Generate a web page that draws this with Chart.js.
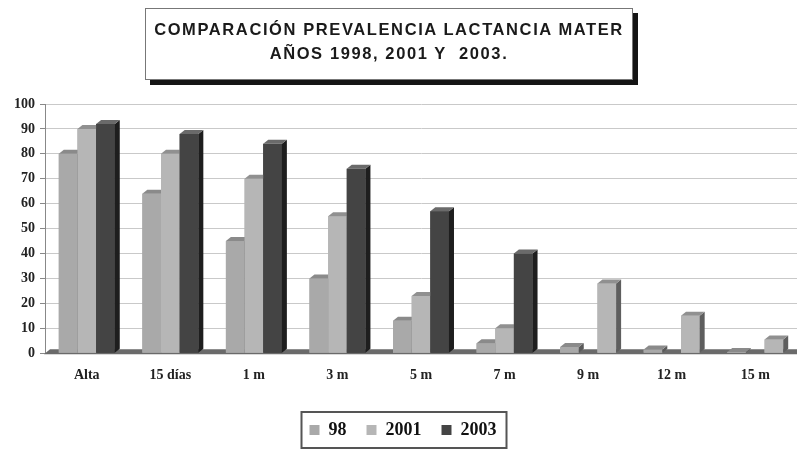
<!DOCTYPE html>
<html>
<head>
<meta charset="utf-8">
<script src="https://cdn.jsdelivr.net/npm/chart.js@4.4.1/dist/chart.umd.min.js"></script>
<style>
  html, body { margin: 0; padding: 0; background: #fff; }
  #wrap { position: relative; width: 799px; height: 453px; overflow: hidden; }
  #title {
    position: absolute; left: 145px; top: 8px; width: 486px; height: 62px;
    padding-top: 8px;
    border: 1px solid #777; background: #fff;
    box-shadow: 5px 5px 0 #151515;
    font: bold 16.5px "Liberation Sans", Arial, sans-serif;
    letter-spacing: 1.6px; color: #1a1a1a;
    text-align: center; line-height: 24px;
    white-space: pre; overflow: hidden;
  }
</style>
</head>
<body>
<div id="wrap">
  <canvas id="c" width="799" height="453"></canvas>
  <div id="title">COMPARACIÓN PREVALENCIA LACTANCIA MATER
AÑOS 1998, 2001 Y  2003.</div>
</div>
<script>
// Prevalence of breastfeeding (%) by age of the child
const categories = ['Alta', '15 días', '1 m', '3 m', '5 m', '7 m', '9 m', '12 m', '15 m'];
const seriesNames = ['98', '2001', '2003'];
const values98   = [80, 64, 45, 30, 13, 4, 2.5, 1.5, 0.5];
const values2001 = [90, 80, 70, 55, 23, 10, 0, 0, 0];
const values2003 = [92, 88, 84, 74, 57, 40, 28, 15, 5.5];
const yTicks = [0, 10, 20, 30, 40, 50, 60, 70, 80, 90, 100];

// shades: front face, side face, top face
const SHADE_LIGHT_A = { front: '#a9a9a9', side: '#5a5a5a', top: '#8a8a8a' };
const SHADE_LIGHT_B = { front: '#b6b6b6', side: '#5e5e5e', top: '#909090' };
const SHADE_DARK    = { front: '#444444', side: '#1e1e1e', top: '#6a6a6a' };
// the later ages of the 2003 series are printed in the light shade
const LIGHT_FROM = categories.indexOf('9 m');

const DEPTH_X = 5, DEPTH_Y = 4;

function shadeFor(datasetIndex, dataIndex) {
  if (datasetIndex === 0) return SHADE_LIGHT_A;
  if (datasetIndex === 1) return SHADE_LIGHT_B;
  return (dataIndex !== undefined && dataIndex >= LIGHT_FROM) ? SHADE_LIGHT_B : SHADE_DARK;
}

const seriesValues = [values98, values2001, values2003];

// 3D floor strip under the bars
const floorPlugin = {
  id: 'floor',
  beforeDatasetsDraw(chart) {
    const { ctx, chartArea } = chart;
    const y0 = chart.scales.y.getPixelForValue(0);
    ctx.save();
    ctx.fillStyle = '#6a6a6a';
    ctx.beginPath();
    ctx.moveTo(chartArea.left - 1, y0 + 1);
    ctx.lineTo(chartArea.left + DEPTH_X, y0 - DEPTH_Y);
    ctx.lineTo(chartArea.right, y0 - DEPTH_Y);
    ctx.lineTo(chartArea.right, y0 + 1);
    ctx.closePath();
    ctx.fill();
    ctx.restore();
  }
};

// front, side and top faces of every bar, painted left to right
const depthPlugin = {
  id: 'depth',
  afterDatasetsDraw(chart) {
    const { ctx } = chart;
    const metas = chart.data.datasets.map((d, k) => chart.getDatasetMeta(k));
    ctx.save();
    categories.forEach((c, i) => {
      metas.forEach((meta, k) => {
        const el = meta.data[i];
        if (!el) return;
        const p = el.getProps(['x', 'y', 'base', 'width'], true);
        if (Math.abs(p.base - p.y) < 0.01) return;
        const s = shadeFor(k, i);
        const l = p.x - p.width / 2, r = p.x + p.width / 2;
        const t = Math.min(p.y, p.base), b = Math.max(p.y, p.base);
        ctx.fillStyle = s.front;
        ctx.fillRect(l, t, r - l, b - t);
        ctx.fillStyle = s.side;
        ctx.beginPath();
        ctx.moveTo(r, t); ctx.lineTo(r + DEPTH_X, t - DEPTH_Y);
        ctx.lineTo(r + DEPTH_X, b - DEPTH_Y); ctx.lineTo(r, b);
        ctx.closePath(); ctx.fill();
        ctx.fillStyle = s.top;
        ctx.beginPath();
        ctx.moveTo(l, t); ctx.lineTo(l + DEPTH_X, t - DEPTH_Y);
        ctx.lineTo(r + DEPTH_X, t - DEPTH_Y); ctx.lineTo(r, t);
        ctx.closePath(); ctx.fill();
      });
    });
    ctx.restore();
  }
};

// frame around the legend items
const legendFramePlugin = {
  id: 'legendFrame',
  afterDraw(chart) {
    const lg = chart.legend;
    if (!lg || !lg.legendHitBoxes || !lg.legendHitBoxes.length) return;
    const boxes = lg.legendHitBoxes;
    const left = Math.min(...boxes.map(b => b.left)) - 8;
    const right = Math.max(...boxes.map(b => b.left + b.width)) + 10;
    const top = Math.min(...boxes.map(b => b.top)) - 9;
    const bottom = Math.max(...boxes.map(b => b.top + b.height)) + 9;
    const { ctx } = chart;
    ctx.save();
    ctx.strokeStyle = '#555';
    ctx.lineWidth = 2;
    ctx.strokeRect(left, top, right - left, bottom - top);
    ctx.restore();
  }
};

const serif = '"Liberation Serif", "Times New Roman", serif';

new Chart(document.getElementById('c'), {
  type: 'bar',
  data: {
    labels: categories,
    datasets: seriesNames.map((name, k) => ({
      label: name,
      data: seriesValues[k],
      backgroundColor: (ctx) => shadeFor(k, ctx.type === 'data' ? ctx.dataIndex : undefined).front,
      borderWidth: 0,
      barPercentage: 1.0,
      categoryPercentage: 0.67
    }))
  },
  options: {
    responsive: false,
    animation: false,
    devicePixelRatio: 1,
    layout: { padding: { top: 104, left: 9, right: 2, bottom: 4 } },
    plugins: {
      title: { display: false },
      tooltip: { enabled: false },
      legend: {
        position: 'bottom',
        labels: {
          boxWidth: 10, boxHeight: 10, padding: 20,
          color: '#111',
          font: { family: serif, size: 18, weight: 'bold' }
        }
      }
    },
    scales: {
      x: {
        grid: { display: false },
        border: { display: false },
        ticks: { color: '#222', font: { family: serif, size: 14, weight: 'bold' }, padding: 6 },
        afterFit: (axis) => { axis.height += 11; }
      },
      y: {
        min: 0, max: 100,
        afterBuildTicks: (axis) => { axis.ticks = yTicks.map(v => ({ value: v })); },
        grid: { color: '#c9c9c9', lineWidth: 1, tickLength: 5, tickColor: '#888' },
        border: { display: true, color: '#888' },
        ticks: { color: '#222', font: { family: serif, size: 14, weight: 'bold' }, padding: 5 }
      }
    }
  },
  plugins: [floorPlugin, depthPlugin, legendFramePlugin]
});
</script>
</body>
</html>
